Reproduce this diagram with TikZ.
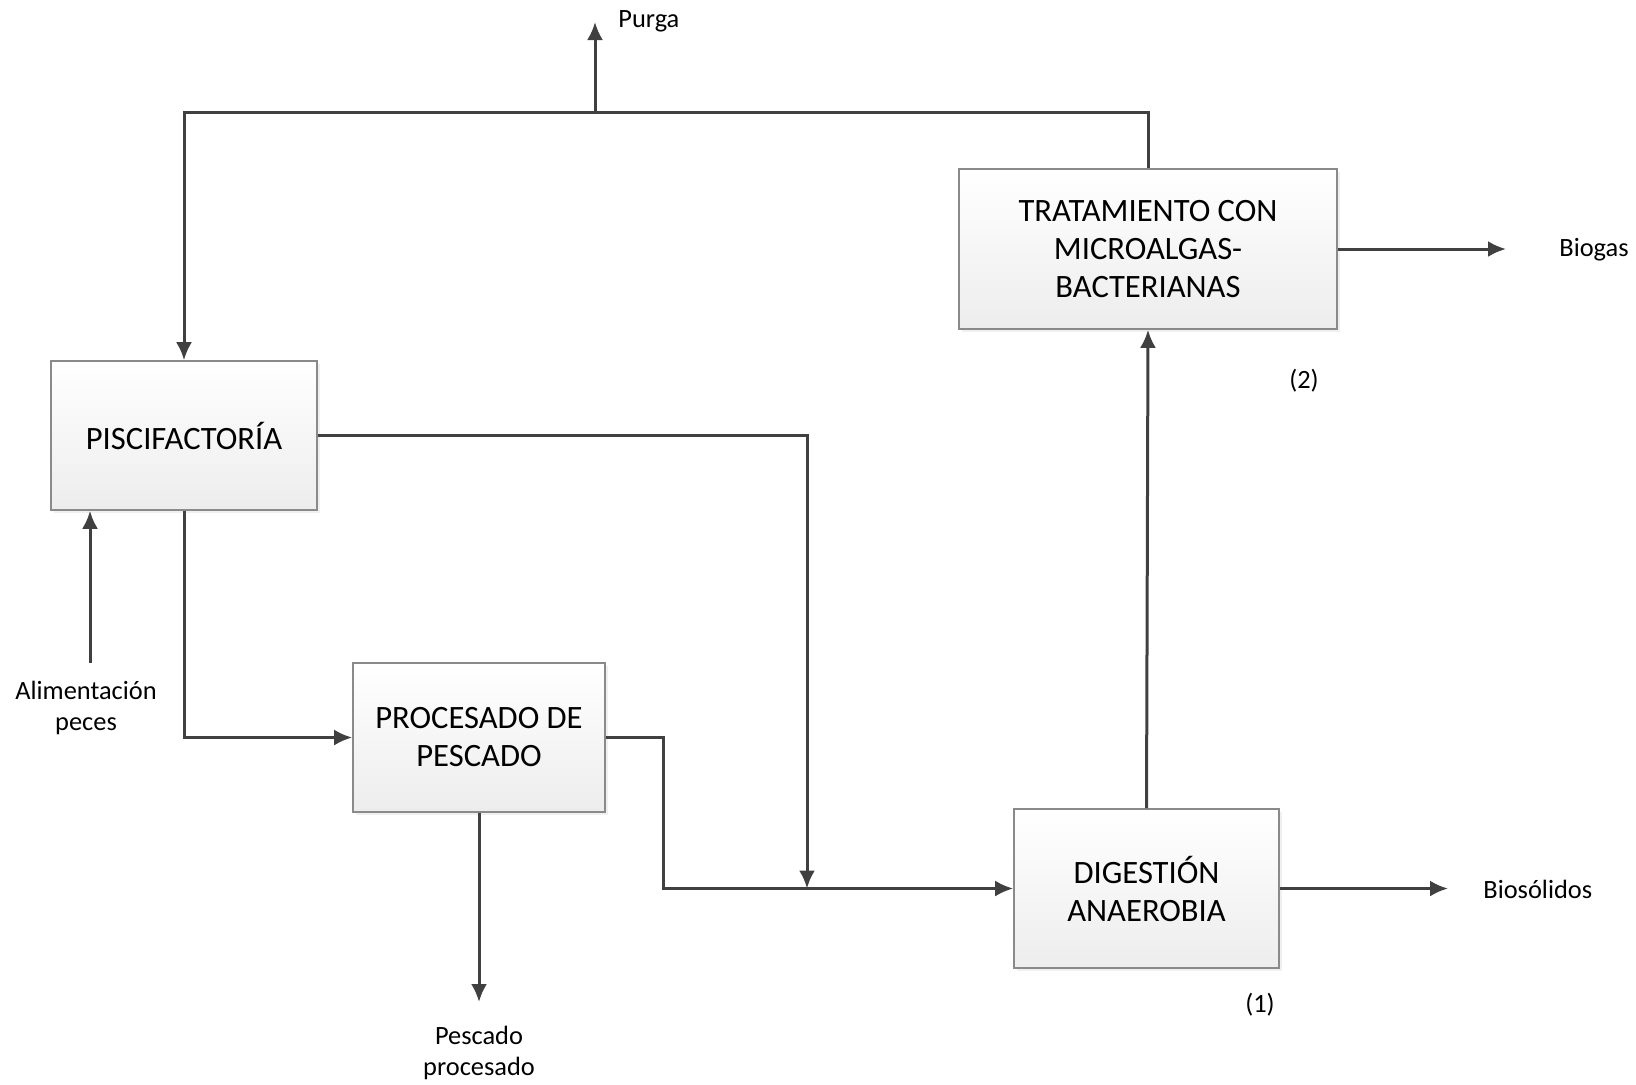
\documentclass[tikz,border=0pt]{standalone}
\usepackage{fontspec}
\setmainfont{Carlito}
\usetikzlibrary{positioning}
\usetikzlibrary{arrows.meta}
\usetikzlibrary{calc}
\usetikzlibrary{shadows}

\definecolor{lineclr}{HTML}{404040}
\definecolor{boxline}{HTML}{8A8A8A}
\definecolor{boxfill}{HTML}{EDEDED}

\begin{document}
\begin{tikzpicture}[ x = 0.5pt, y = -0.5pt
                     , font = \fontsize{16.3}{19}\selectfont
                     , >={Latex[width=8pt, length=9pt]}
                     , box/.style = { rectangle
                                    , draw = boxline
                                    , line width = 0.8pt
                                    , top color = white
                                    , bottom color = boxfill
                                    , align = center
                                    , inner sep = 0pt
                                    , drop shadow = {opacity=0.12, shadow xshift=1.5pt, shadow yshift=-1.5pt} }
                     , txt/.style = { align = center
                                    , inner sep = 0pt
                                    , font = \fontsize{13.2}{15.5}\selectfont }
                     , flow/.style = { draw = lineclr, line width = 1.5pt }
                     ]
  \useasboundingbox (0,0) rectangle (1636,1084);

  %%
  %% Nodes
  %%
  \node (pisc) [box, minimum width=133pt, minimum height=74.5pt] at (184,435.5) {PISCIFACTORÍA};
  \node (proc) [box, minimum width=126pt, minimum height=74.5pt] at (479,737.5) {PROCESADO DE\\PESCADO};
  \node (dig) [box, minimum width=132.5pt, minimum height=79.5pt] at (1146.5,888.5) {DIGESTIÓN\\ANAEROBIA};
  \node (trat) [box, minimum width=189pt, minimum height=80pt] at (1148,249) {TRATAMIENTO CON\\MICROALGAS-\\BACTERIANAS};

  \coordinate (purgaup) at (595,112);
  \coordinate (purgaend) at (595,22);
  \coordinate (join) at (807,888.5);
  \coordinate (alimstart) at (90,663);
  \coordinate (pescend) at (479,1002);
  \coordinate (biosend) at (1448,888.5);
  \coordinate (biogasend) at (1506,249);

  \node (purga) [txt, anchor=west] at (618,21) {Purga};
  \node (biogas) [txt, anchor=west] at (1559,250) {Biogas};
  \node (bios) [txt, anchor=west] at (1483,889) {Biosólidos};
  \node (alim) [txt] at (86,708) {Alimentación\\peces};
  \node (pesc) [txt] at (479,1053) {Pescado\\procesado};
  \node (n2) [txt] at (1304,381) {(2)};
  \node (n1) [txt] at (1260,1005) {(1)};

  %%
  %% Connectors
  %%
  % Recirculation and purge.
  \draw[flow, ->] (trat.north) |- (purgaup) -| (pisc.north);
  \draw[flow, ->] (purgaup) -- (purgaend);
  % Flows to the digester.
  \draw[flow, ->] (pisc.east) -| (join);
  \draw[flow, ->] (pisc.south) |- (proc.west);
  \draw[flow, ->] (proc.east) -- ++(58,0) |- (dig.west);
  % Inputs and outputs.
  \draw[flow, ->] (alimstart) -- (alimstart |- pisc.south);
  \draw[flow, ->] (proc.south) -- (pescend);
  \draw[flow, ->] (dig.north) -- (trat.south);
  \draw[flow, ->] (dig.east) -- (biosend);
  \draw[flow, ->] (trat.east) -- (biogasend);
\end{tikzpicture}
\end{document}
